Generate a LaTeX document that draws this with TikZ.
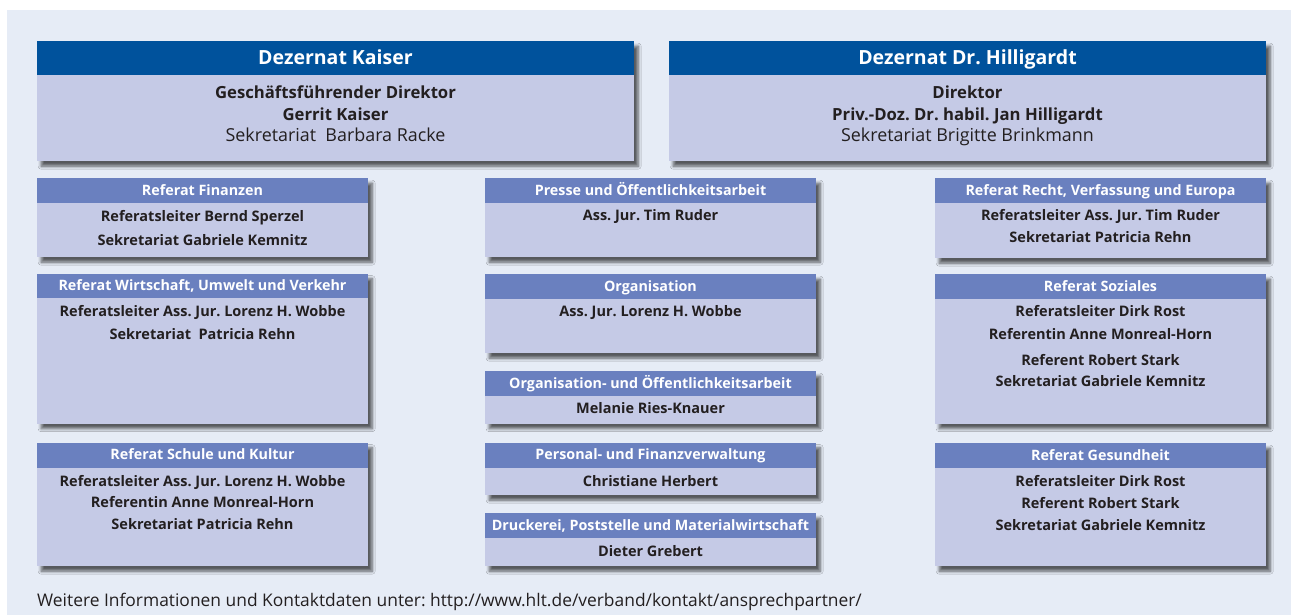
\documentclass[tikz,border=0pt]{standalone}
\usepackage{fontspec}
\setmainfont{Open Sans}
\usetikzlibrary{shadows.blur}
\frenchspacing
\definecolor{panel}{HTML}{E6ECF6}
\definecolor{darkhdr}{HTML}{00529C}
\definecolor{midhdr}{HTML}{6A80BF}
\definecolor{bodyc}{HTML}{C5CAE6}
\definecolor{txt}{HTML}{231F20}
\tikzset{
  bodybox/.style={fill=bodyc, draw=none, anchor=north west, inner sep=0pt,
    blur shadow={shadow xshift=4pt, shadow yshift=-5pt, shadow blur radius=3pt, shadow blur steps=6, shadow opacity=62}},
  hdrbox/.style={fill=midhdr, draw=none, anchor=north west, inner sep=0pt},
  bighdr/.style={fill=darkhdr, draw=none, anchor=north west, inner sep=0pt},
  htext/.style={anchor=base, inner sep=0pt, text=white, font=\fontsize{14.3}{16}\selectfont\bfseries\frenchspacing},
  bhtext/.style={anchor=base, inner sep=0pt, text=white, font=\fontsize{19.5}{22}\selectfont\bfseries\frenchspacing},
  btext/.style={anchor=base, inner sep=0pt, text=txt, font=\fontsize{14.5}{16}\selectfont\bfseries\frenchspacing},
  bigtext/.style={anchor=base, inner sep=0pt, text=txt, font=\fontsize{16.7}{19}\selectfont\bfseries\frenchspacing},
  bignorm/.style={anchor=base, inner sep=0pt, text=txt, font=\fontsize{17.9}{19}\selectfont\frenchspacing},
  foot/.style={anchor=base west, inner sep=0pt, text=txt, font=\fontsize{17.4}{18}\selectfont\frenchspacing},
}
% #1 name, #2 left x, #3 top y, #4 header bottom y, #5 bottom y, #6 title
\newcommand\refbox[6]{%
  \node[bodybox, minimum width=331pt, minimum height={(#5-#3)*1pt}] (#1) at (#2,#3) {};
  \node[hdrbox, minimum width=331pt, minimum height={(#4-#3)*1pt}] (#1h) at (#2,#3) {};
  \node[htext] (#1t) at ({#2+165.5},{#3+17}) {#6};
}
\begin{document}
\begin{tikzpicture}[x=1pt,y=-1pt]
\useasboundingbox (0,0) rectangle (1291,615);
\fill[panel] (7,10) rectangle (1291,615);

% Dezernate
\node[bodybox, minimum width=597pt, minimum height=120pt] (dk) at (37,41) {};
\node[bighdr, minimum width=597pt, minimum height=34pt] (dkh) at (37,41) {};
\node[bhtext] (dkt) at (335.5,65) {Dezernat Kaiser};
\node[bigtext] (dk1) at (335.5,99) {Geschäftsführender Direktor};
\node[bigtext] (dk2) at (335.5,120.7) {Gerrit Kaiser};
\node[bignorm] (dk3) at (335.5,141.7) {Sekretariat\ \ Barbara Racke};

\node[bodybox, minimum width=597pt, minimum height=120pt] (dh) at (669,41) {};
\node[bighdr, minimum width=597pt, minimum height=34pt] (dhh) at (669,41) {};
\node[bhtext] (dht) at (967.5,65) {Dezernat Dr. Hilligardt};
\node[bigtext] (dh1) at (967.5,99) {Direktor};
\node[bigtext] (dh2) at (967.5,120.7) {Priv.-Doz. Dr. habil. Jan Hilligardt};
\node[bignorm] (dh3) at (967.5,141.7) {Sekretariat Brigitte Brinkmann};

% column 1
\refbox{fin}{37}{178}{203}{257}{Referat Finanzen}
\node[btext] (fin1) at (202.5,221.7) {Referatsleiter Bernd Sperzel};
\node[btext] (fin2) at (202.5,245) {Sekretariat Gabriele Kemnitz};

\refbox{wir}{37}{273.5}{298}{423.5}{Referat Wirtschaft, Umwelt und Verkehr}
\node[btext] (wir1) at (202.5,316.7) {Referatsleiter Ass. Jur. Lorenz H. Wobbe};
\node[btext] (wir2) at (202.5,339) {Sekretariat\ \ Patricia Rehn};

\refbox{sch}{37}{442.5}{467.5}{566}{Referat Schule und Kultur}
\node[btext] (sch1) at (202.5,486) {Referatsleiter Ass. Jur. Lorenz H. Wobbe};
\node[btext] (sch2) at (202.5,507.7) {Referentin Anne Monreal-Horn};
\node[btext] (sch3) at (202.5,529.3) {Sekretariat Patricia Rehn};

% column 2
\refbox{pre}{485}{178}{203}{257}{Presse und Öffentlichkeitsarbeit}
\node[btext] (pre1) at (650.5,220) {Ass. Jur. Tim Ruder};

\refbox{org}{485}{274}{299}{353}{Organisation}
\node[btext] (org1) at (650.5,316.7) {Ass. Jur. Lorenz H. Wobbe};

\refbox{oeff}{485}{371}{396}{423.5}{Organisation- und Öffentlichkeitsarbeit}
\node[btext] (oeff1) at (650.5,413.3) {Melanie Ries-Knauer};

\refbox{pers}{485}{442.5}{468}{495}{Personal- und Finanzverwaltung}
\node[btext] (pers1) at (650.5,486.7) {Christiane Herbert};

\refbox{dru}{485}{513}{538}{566}{Druckerei, Poststelle und Materialwirtschaft}
\node[btext] (dru1) at (650.5,556) {Dieter Grebert};

% column 3
\refbox{rec}{935}{178}{203}{258}{Referat Recht, Verfassung und Europa}
\node[btext] (rec1) at (1100.5,220) {Referatsleiter Ass. Jur. Tim Ruder};
\node[btext] (rec2) at (1100.5,242.7) {Sekretariat Patricia Rehn};

\refbox{soz}{935}{274}{299}{423.5}{Referat Soziales}
\node[btext] (soz1) at (1100.5,316.7) {Referatsleiter Dirk Rost};
\node[btext] (soz2) at (1100.5,339) {Referentin Anne Monreal-Horn};
\node[btext] (soz3) at (1100.5,365) {Referent Robert Stark};
\node[btext] (soz4) at (1100.5,386.7) {Sekretariat Gabriele Kemnitz};

\refbox{ges}{935}{443}{467.5}{566}{Referat Gesundheit}
\node[btext] (ges1) at (1100.5,486) {Referatsleiter Dirk Rost};
\node[btext] (ges2) at (1100.5,508.3) {Referent Robert Stark};
\node[btext] (ges3) at (1100.5,530.7) {Sekretariat Gabriele Kemnitz};

% footer
\node[foot] (foot) at (37,606.7) {Weitere Informationen und Kontaktdaten unter: http://www.hlt.de/verband/kontakt/ansprechpartner/};
\end{tikzpicture}
\end{document}
